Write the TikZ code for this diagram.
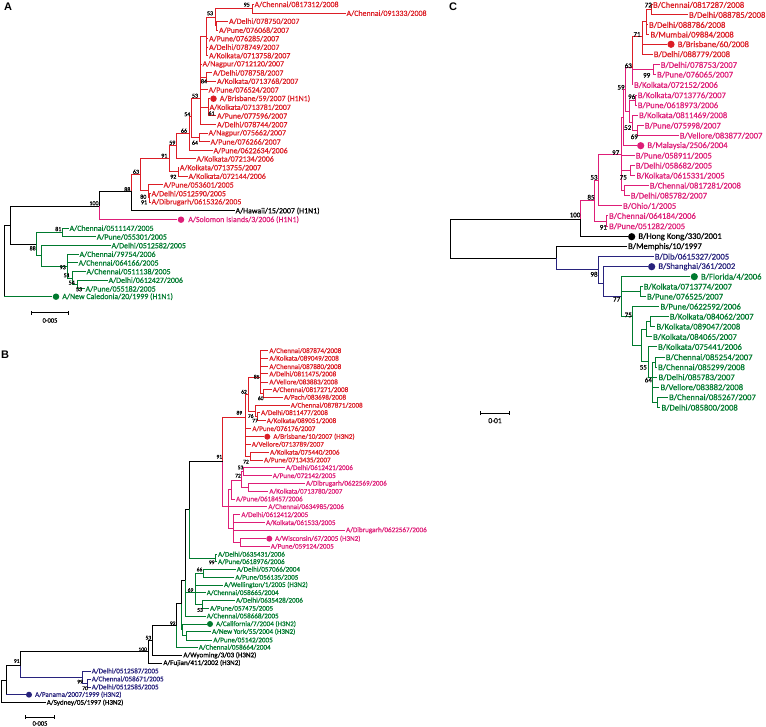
\documentclass[tikz,border=0pt]{standalone}
\usepackage{fontspec}
\setmainfont{Carlito}[FakeBold=0.6]
\newfontfamily\panelfont{Liberation Sans}
\usetikzlibrary{arrows.meta,positioning}
\definecolor{treeRed}{RGB}{220,30,38}
\definecolor{treePink}{RGB}{222,30,120}
\definecolor{treeGreen}{RGB}{0,122,46}
\definecolor{treeNavy}{RGB}{40,35,125}

\begin{document}
\begin{tikzpicture}[x=1pt,y=-1pt,line width=1pt,
  tipA/.style={anchor=west,inner sep=0.6pt,font=\fontsize{7.9}{8}\selectfont},
  tipB/.style={anchor=west,inner sep=0.6pt,font=\fontsize{7.1}{8}\selectfont},
  tipC/.style={anchor=west,inner sep=0.6pt,font=\fontsize{8.6}{10}\selectfont},
  bsA/.style={inner sep=0pt,font=\fontsize{6}{6}\selectfont},
  bsB/.style={inner sep=0pt,font=\fontsize{5.5}{6}\selectfont},
  bsC/.style={inner sep=0pt,font=\fontsize{7}{8}\selectfont},
  dotA/.style={circle,fill,inner sep=0pt,minimum size=6.5pt},
  dotB/.style={circle,fill,inner sep=0pt,minimum size=6pt},
  dotC/.style={circle,fill,inner sep=0pt,minimum size=7.2pt},
  scl/.style={inner sep=0pt,font=\fontsize{6.5}{7}\selectfont},
  panel/.style={inner sep=0pt,font=\panelfont\bfseries\fontsize{11}{12}\selectfont},
  rd/.style={color=treeRed}, pk/.style={color=treePink},
  gn/.style={color=treeGreen}, nv/.style={color=treeNavy}, bk/.style={color=black}]
\useasboundingbox (0,0) rectangle (766,727);

% ---------------- panel A ----------------
\node[panel] (pA) at (8,7) {A};
\coordinate (aRoot) at (4,261);
\coordinate (aN1) at (10,225.4);
\coordinate (aN100) at (99,206.5);
\coordinate (aN88) at (131.5,192);
\coordinate (aN63) at (140,174.5);
\coordinate (aN91) at (169.5,158.5);
\coordinate (aN92) at (178.3,172);
\coordinate (aN59) at (176.7,145.5);
\coordinate (aN66) at (189,133.5);
\coordinate (aN54) at (191.7,117);
\coordinate (aN64) at (199.3,137.7);
\coordinate (aN53b) at (200,98.5);
\coordinate (aP1) at (206.7,36.5);
\coordinate (aN53) at (215,17.3);
\coordinate (aN95) at (252.3,8.9);
\coordinate (aSm) at (216.7,25.8);
\coordinate (aN84) at (206.7,77.2);
\coordinate (aN61) at (208,107.3);
\coordinate (aN80) at (148,191);
\coordinate (aN91b) at (149.5,198);
\coordinate (aG88) at (36.5,244.3);
\coordinate (aG81) at (62.5,232.7);
\coordinate (aGX) at (41.7,256);
\coordinate (aG93) at (67.3,266.3);
\coordinate (aG51) at (72.7,278.2);
\coordinate (aG54) at (77,284.7);

\node[tipA,rd] (a1) at (253.5,4.5) {A/Chennai/0817312/2008};
\node[tipA,rd] (a2) at (345.5,13.3) {A/Chennai/091333/2008};
\node[tipA,rd] (a3) at (228,21.3) {A/Delhi/078750/2007};
\node[tipA,rd] (a4) at (218,30.3) {A/Pune/076068/2007};
\node[tipA,rd] (a5) at (208,38.7) {A/Pune/076285/2007};
\node[tipA,rd] (a6) at (208,47.3) {A/Delhi/078749/2007};
\node[tipA,rd] (a7) at (208,55.7) {A/Kolkata/0713758/2007};
\node[tipA,rd] (a8) at (201.5,64.3) {A/Nagpur/0712120/2007};
\node[tipA,rd] (a9) at (212,73) {A/Delhi/078758/2007};
\node[tipA,rd] (a10) at (216,81.3) {A/Kolkata/0713768/2007};
\node[tipA,rd] (a11) at (207.5,90) {A/Pune/076524/2007};
\node[dotA,rd] (aBri) at (213.5,98.7) {};
\node[tipA,rd,right=1.5pt of aBri] (aBriL) {A/Brisbane/59/2007 (H1N1)};
\node[tipA,rd] (a12) at (208.5,107.3) {A/Kolkata/0713781/2007};
\node[tipA,rd] (a13) at (216,116) {A/Pune/077596/2007};
\node[tipA,rd] (a14) at (216,124.7) {A/Delhi/078744/2007};
\node[tipA,rd] (a15) at (207.5,133.3) {A/Nagpur/075662/2007};
\node[tipA,rd] (a16) at (209.5,142) {A/Pune/076266/2007};
\node[tipA,rd] (a17) at (212.5,150.7) {A/Pune/0622634/2006};
\node[tipA,rd] (a18) at (195.5,159) {A/Kolkata/072134/2006};
\node[tipA,rd] (a19) at (178.8,167.7) {A/Kolkata/0713755/2007};
\node[tipA,rd] (a20) at (187.5,176.3) {A/Kolkata/072144/2006};
\node[tipA,rd] (a21) at (162.5,185) {A/Pune/053601/2005};
\node[tipA,rd] (a22) at (150.5,193.7) {A/Delhi/0512590/2005};
\node[tipA,rd] (a23) at (150.5,202.3) {A/Dibrugarh/0615326/2005};
\node[tipA,bk] (a24) at (234.5,211) {A/Hawaii/15/2007 (H1N1)};
\node[dotA,pk] (aSol) at (181,219.7) {};
\node[tipA,pk,right=2.5pt of aSol] (aSolL) {A/Solomon Islands/3/2006 (H1N1)};
\node[tipA,gn] (a25) at (68.5,228.3) {A/Chennai/0511147/2005};
\node[tipA,gn] (a26) at (95.7,237) {A/Pune/055301/2005};
\node[tipA,gn] (a27) at (110.5,245.7) {A/Delhi/0512582/2005};
\node[tipA,gn] (a28) at (78.5,254.3) {A/Chennai/79754/2006};
\node[tipA,gn] (a29) at (77.5,263) {A/Chennai/064166/2005};
\node[tipA,gn] (a30) at (85.5,271.7) {A/Chennai/0511138/2005};
\node[tipA,gn] (a31) at (107.5,280.3) {A/Delhi/0612427/2006};
\node[tipA,gn] (a32) at (84.5,289) {A/Pune/055182/2005};
\node[dotA,gn] (aNC) at (56,296.7) {};
\node[tipA,gn,right=1.5pt of aNC] (aNCL) {A/New Caledonia/20/1999 (H1N1)};

\draw[rd] (aN95) |- (a1) (aN95) |- (a2);
\draw[rd] (aSm) |- (a3) (aSm) |- (a4);
\draw[rd] (aN53) |- (aN95) (aN53) |- (aSm);
\draw[rd] (aP1) |- (aN53) (aP1) |- (a5) (aP1) |- (a6) (aP1) |- (a7);
\draw[rd] (aN84) |- (a9) (aN84) |- (a10);
\draw[rd] (aN61) |- (aBri) (aN61) |- (a12) (aN61) |- (a13);
\draw[rd] (aN53b) |- (aP1) (aN53b) |- (a8) (aN53b) |- (aN84) (aN53b) |- (a11)
  (aN53b) |- (aN61) (aN53b) |- (a14);
\draw[rd] (aN64) |- (a15) (aN64) |- (a16);
\draw[rd] (aN54) |- (aN53b) (aN54) |- (aN64);
\draw[rd] (aN66) |- (aN54) (aN66) |- (a17);
\draw[rd] (aN59) |- (aN66) (aN59) |- (a18);
\draw[rd] (aN92) |- (a19) (aN92) |- (a20);
\draw[rd] (aN91) |- (aN59) (aN91) |- (aN92);
\draw[rd] (aN91b) |- (a22) (aN91b) |- (a23);
\draw[rd] (aN80) |- (a21) (aN80) |- (aN91b);
\draw[rd] (aN63) |- (aN91) (aN63) |- (aN80);
\draw[rd] (aN88) |- (aN63);
\draw[bk] (aN88) |- (a24);
\draw[bk] (aN100) |- (aN88);
\draw[pk] (aN100) |- (aSol);
\draw[bk] (aN1) |- (aN100) (aN1) |- (aG88);
\draw[gn] (aG81) |- (a25) (aG81) |- (a26);
\draw[gn] (aG54) |- (a31) (aG54) |- (a32);
\draw[gn] (aG51) |- (a30) (aG51) |- (aG54);
\draw[gn] (aG93) |- (a28) (aG93) |- (a29) (aG93) |- (aG51);
\draw[gn] (aGX) |- (a27) (aGX) |- (aG93);
\draw[gn] (aG88) |- (aG81) (aG88) |- (aGX);
\draw[bk] (aRoot) |- (aN1) (aRoot) -- (aRoot |- aNC);
\draw[gn] (aRoot |- aNC) -- (aNC);

\node[bsA] (aL1) at (246.7,4.7) {95};
\node[bsA] (aL2) at (210,13.3) {53};
\node[bsA] (aL3) at (204,81.3) {84};
\node[bsA] (aL4) at (195,95.7) {53};
\node[bsA] (aL5) at (211.5,113.3) {61};
\node[bsA] (aL6) at (187.3,114.3) {54};
\node[bsA] (aL7) at (184,130.7) {66};
\node[bsA] (aL8) at (195,142.7) {64};
\node[bsA] (aL9) at (172.3,142.7) {59};
\node[bsA] (aL10) at (164.3,155.7) {91};
\node[bsA] (aL11) at (173.3,176.7) {92};
\node[bsA] (aL12) at (136,171.7) {63};
\node[bsA] (aL13) at (127.3,189.3) {88};
\node[bsA] (aL14) at (143.3,196.7) {80};
\node[bsA] (aL15) at (144,202.3) {91};
\node[bsA] (aL16) at (94,203.3) {100};
\node[bsA] (aL17) at (58.3,229) {81};
\node[bsA] (aL18) at (32.7,248.3) {88};
\node[bsA] (aL19) at (62.7,267.3) {93};
\node[bsA] (aL20) at (66.7,275.3) {51};
\node[bsA] (aL21) at (71.7,282.7) {54};
\node[bsA] (aL22) at (79,289.3) {53};

\coordinate (aS1) at (31,313);
\coordinate (aS2) at (69,313);
\draw[bk,{Bar[width=4pt]}-{Bar[width=4pt]}] (aS1) -- (aS2);
\node[scl] (aSL) at (50,320.5) {0·005};

% ---------------- panel B ----------------
\node[panel] (pB) at (5,355) {B};
\coordinate (bRoot) at (1.7,691.4);
\coordinate (bR2) at (6,680);
\coordinate (bA) at (20.7,665);
\coordinate (bN99) at (82.7,677);
\coordinate (bN70) at (87.5,683);
\coordinate (bN100) at (148.3,651.5);
\coordinate (bN53) at (152.7,640.5);
\coordinate (bN92) at (176.7,625.5);
\coordinate (bZ) at (181,603.7);
\coordinate (bNC) at (182.7,629.9);
\coordinate (bNY) at (186.7,635.9);
\coordinate (bY) at (185,580);
\coordinate (bX) at (189,509.4);
\coordinate (bG69) at (195,592);
\coordinate (bG66) at (203.3,573.3);
\coordinate (bG53) at (202.3,604.3);
\coordinate (bG99) at (215,558);
\coordinate (bM91) at (222.7,461.7);
\coordinate (bM) at (228.3,506);
\coordinate (bM2) at (231.7,489.5);
\coordinate (bM72) at (241.5,480);
\coordinate (bM53) at (243.3,471.7);
\coordinate (bDK) at (248.3,487.5);
\coordinate (bDel) at (233.3,528.6);
\coordinate (bWP) at (240,542.5);
\coordinate (bR89) at (245,417.3);
\coordinate (bR62) at (248.3,394.5);
\coordinate (bR85) at (260,378);
\coordinate (bR60) at (263.3,393.5);
\coordinate (bR76) at (255,411);
\coordinate (bR77) at (257.5,416.7);
\coordinate (bR72) at (250,456.2);

\node[tipB,rd] (b1) at (268.3,350.7) {A/Chennai/087874/2008};
\node[tipB,rd] (b2) at (268.3,358.3) {A/Kolkata/089049/2008};
\node[tipB,rd] (b3) at (268.3,366.7) {A/Chennai/087880/2008};
\node[tipB,rd] (b4) at (268.3,374) {A/Delhi/0811475/2008};
\node[tipB,rd] (b5) at (268.3,382) {A/Vellore/083883/2008};
\node[tipB,rd] (b6) at (271.7,389.7) {A/Chennai/0817271/2008};
\node[tipB,rd] (b7) at (283,397.3) {A/Pach/083698/2008};
\node[tipB,rd] (b8) at (289.7,405.3) {A/Chennai/087871/2008};
\node[tipB,rd] (b9) at (260,412.7) {A/Delhi/0811477/2008};
\node[tipB,rd] (b10) at (265.7,420.7) {A/Kolkata/089051/2008};
\node[tipB,rd] (b11) at (251.3,428.7) {A/Pune/076176/2007};
\node[dotB,rd] (bBri) at (267.3,436.7) {};
\node[tipB,rd,right=1.5pt of bBri] (bBriL) {A/Brisbane/10/2007 (H3N2)};
\node[tipB,rd] (b12) at (250.7,444.3) {A/Vellore/0713789/2007};
\node[tipB,rd] (b13) at (269,452.3) {A/Kolkata/075440/2006};
\node[tipB,rd] (b14) at (263,460) {A/Pune/0713435/2007};
\node[tipB,pk] (b15) at (285,467.7) {A/Delhi/0612421/2006};
\node[tipB,pk] (b16) at (271.7,475.7) {A/Pune/072142/2005};
\node[tipB,pk] (b17) at (305,483.7) {A/Dibrugarh/0622569/2006};
\node[tipB,pk] (b18) at (268.3,491.3) {A/Kolkata/0713780/2007};
\node[tipB,pk] (b19) at (235,499) {A/Pune/0618457/2006};
\node[tipB,pk] (b20) at (267.3,506.7) {A/Chennai/0634985/2006};
\node[tipB,pk] (b21) at (240.3,514.7) {A/Delhi/0612412/2005};
\node[tipB,pk] (b22) at (265,522.7) {A/Kolkata/061533/2005};
\node[tipB,pk] (b23) at (345,530.3) {A/Dibrugarh/0622567/2006};
\node[dotB,pk] (bWis) at (269.3,538.7) {};
\node[tipB,pk,right=1.2pt of bWis] (bWisL) {A/Wisconsin/67/2005 (H3N2)};
\node[tipB,pk] (b24) at (269.7,546.3) {A/Pune/059124/2005};
\node[tipB,gn] (b25) at (217,554.3) {A/Delhi/0635431/2006};
\node[tipB,gn] (b26) at (217,561.7) {A/Pune/0618976/2006};
\node[tipB,gn] (b27) at (235.7,569.3) {A/Delhi/057066/2004};
\node[tipB,gn] (b28) at (234.3,577.3) {A/Pune/056135/2005};
\node[tipB,gn] (b29) at (223,585) {A/Wellington/1/2005 (H3N2)};
\node[tipB,gn] (b30) at (205.7,592.7) {A/Chennai/058665/2004};
\node[tipB,gn] (b31) at (235,600.3) {A/Delhi/0635428/2006};
\node[tipB,gn] (b32) at (209,608.3) {A/Pune/057475/2005};
\node[tipB,gn] (b33) at (205.7,616) {A/Chennai/058668/2005};
\node[dotB,gn] (bCal) at (210,624) {};
\node[tipB,gn,right=1.5pt of bCal] (bCalL) {A/California/7/2004 (H3N2)};
\node[tipB,gn] (b34) at (211,631.7) {A/New York/55/2004 (H3N2)};
\node[tipB,gn] (b35) at (212.3,640) {A/Pune/05142/2005};
\node[tipB,gn] (b36) at (197.7,647.3) {A/Chennai/058664/2004};
\node[tipB,bk] (b37) at (182.3,655.3) {A/Wyoming/3/03 (H3N2)};
\node[tipB,bk] (b38) at (162.3,663) {A/Fujian/411/2002 (H3N2)};
\node[tipB,nv] (b39) at (90.7,671) {A/Delhi/0512587/2005};
\node[tipB,nv] (b40) at (90.7,679) {A/Chennai/058671/2005};
\node[tipB,nv] (b41) at (90.7,687) {A/Delhi/0512585/2005};
\node[dotB,nv] (bPan) at (29,694.7) {};
\node[tipB,nv,right=1.5pt of bPan] (bPanL) {A/Panama/2007/1999 (H3N2)};
\node[tipB,bk] (b42) at (45.7,702.7) {A/Sydney/05/1997 (H3N2)};

\draw[rd] (bR85) |- (b1) (bR85) |- (b2) (bR85) |- (b3) (bR85) |- (b4) (bR85) |- (b5)
  (bR85) |- (bR60);
\draw[rd] (bR60) |- (b6) (bR60) |- (b7);
\draw[rd] (bR77) |- (b9) (bR77) |- (b10);
\draw[rd] (bR76) |- (b8) (bR76) |- (bR77);
\draw[rd] (bR62) |- (bR85) (bR62) |- (bR76);
\draw[rd] (bR72) |- (b13) (bR72) |- (b14);
\draw[rd] (bR89) |- (bR62) (bR89) |- (b11) (bR89) |- (bBri) (bR89) |- (b12) (bR89) |- (bR72);
\draw[rd] (bM91) |- (bR89);
\draw[pk] (bM53) |- (b15) (bM53) |- (b16);
\draw[pk] (bDK) |- (b17) (bDK) |- (b18);
\draw[pk] (bM72) |- (bM53) (bM72) |- (bDK);
\draw[pk] (bM2) |- (bM72) (bM2) |- (b19);
\draw[pk] (bWP) |- (bWis) (bWP) |- (b24);
\draw[pk] (bDel) |- (b21) (bDel) |- (b22) (bDel) |- (b23) (bDel) |- (bWP);
\draw[pk] (bM) |- (bM2) (bM) |- (b20) (bM) |- (bDel);
\draw[pk] (bM91) |- (bM);
\draw[bk] (bX) |- (bM91);
\draw[gn] (bX) |- (bG99);
\draw[gn] (bG99) |- (b25) (bG99) |- (b26);
\draw[gn] (bG66) |- (b27) (bG66) |- (b28);
\draw[gn] (bG53) |- (b31) (bG53) |- (b32);
\draw[gn] (bG69) |- (bG66) (bG69) |- (b29) (bG69) |- (b30) (bG69) |- (bG53);
\draw[bk] (bY) |- (bX);
\draw[gn] (bY) |- (bG69) (bY) |- (b33);
\draw[gn] (bNY) |- (b34) (bNY) |- (b35);
\draw[gn] (bNC) |- (bCal) (bNC) |- (bNY);
\draw[bk] (bZ) |- (bY);
\draw[gn] (bZ) |- (bNC);
\draw[bk] (bN92) |- (bZ);
\draw[gn] (bN92) |- (b36);
\draw[bk] (bN53) |- (bN92) (bN53) |- (b37);
\draw[bk] (bN100) |- (bN53) (bN100) |- (b38);
\draw[bk] (bA) |- (bN100);
\draw[nv] (bN70) |- (b40) (bN70) |- (b41);
\draw[nv] (bN99) |- (b39) (bN99) |- (bN70);
\draw[nv] (bA) |- (bN99);
\draw[bk] (bR2) |- (bA) (bR2) -- (bR2 |- bPan);
\draw[nv] (bR2 |- bPan) -- (bPan);
\draw[bk] (bRoot) |- (bR2) (bRoot) |- (b42);

\node[bsB] (bL1) at (256.7,376.7) {85};
\node[bsB] (bL2) at (244,391.7) {62};
\node[bsB] (bL3) at (260.7,398.3) {60};
\node[bsB] (bL4) at (239.3,412.7) {89};
\node[bsB] (bL5) at (250.7,416) {76};
\node[bsB] (bL6) at (255,420.7) {77};
\node[bsB] (bL7) at (219.3,456.7) {91};
\node[bsB] (bL8) at (246,461.7) {72};
\node[bsB] (bL9) at (240.5,467.5) {53};
\node[bsB] (bL10) at (238,475.7) {72};
\node[bsB] (bL11) at (211.7,562.3) {99};
\node[bsB] (bL12) at (199.5,569.5) {66};
\node[bsB] (bL13) at (190.5,590) {69};
\node[bsB] (bL14) at (200,610) {53};
\node[bsB] (bL15) at (172.7,623.3) {92};
\node[bsB] (bL16) at (148.3,637.7) {53};
\node[bsB] (bL17) at (142.7,649.3) {100};
\node[bsB] (bL18) at (16.7,661) {91};
\node[bsB] (bL19) at (80,681.7) {99};
\node[bsB] (bL20) at (85,688.3) {70};

\coordinate (bS1) at (25,717);
\coordinate (bS2) at (55,717);
\draw[bk,{Bar[width=4pt]}-{Bar[width=4pt]}] (bS1) -- (bS2);
\node[scl] (bSL) at (40,723.5) {0·005};

% ---------------- panel C ----------------
\node[panel] (pC) at (453,7) {C};
\coordinate (cRoot) at (450,239.3);
\coordinate (cN100) at (580,219.2);
\coordinate (cN85) at (594,200.8);
\coordinate (cN91) at (606.7,221.2);
\coordinate (cN53) at (598.7,180.5);
\coordinate (cN97) at (621.7,155);
\coordinate (cU) at (623.3,117.9);
\coordinate (cN59) at (625,90);
\coordinate (cN63) at (632.3,68);
\coordinate (cN71) at (642.3,37);
\coordinate (cA) at (646.7,22);
\coordinate (cN72) at (651.7,10);
\coordinate (cN99) at (653.3,69.9);
\coordinate (cW) at (629,111.7);
\coordinate (cN96) at (635,100.3);
\coordinate (cN52) at (632.3,123);
\coordinate (cN69) at (637.7,130.7);
\coordinate (cN75) at (630,170.7);
\coordinate (cSub) at (624,190.7);
\coordinate (cB) at (556.7,258.3);
\coordinate (cN98) at (598.3,269.9);
\coordinate (cS) at (603.3,283.1);
\coordinate (cN77) at (621,297);
\coordinate (cKP) at (640,291.7);
\coordinate (cN75b) at (632.3,317);
\coordinate (cD) at (641.7,345.5);
\coordinate (cK2) at (646.7,329.4);
\coordinate (cK1) at (650,321.7);
\coordinate (cE) at (648.3,361.5);
\coordinate (cN64) at (652,378);
\coordinate (cF) at (655,362.3);
\coordinate (cG2) at (657,402.5);

\node[tipC,rd] (c1) at (652,5) {B/Chennai/0817287/2008};
\node[tipC,rd] (c2) at (688,15) {B/Delhi/088785/2008};
\node[tipC,rd] (c3) at (648,25) {B/Delhi/088786/2008};
\node[tipC,rd] (c4) at (649.4,34.7) {B/Mumbai/09884/2008};
\node[dotC,rd] (cBri) at (671,44.3) {};
\node[tipC,rd,right=1.5pt of cBri] (cBriL) {B/Brisbane/60/2008};
\node[tipC,rd] (c5) at (652.7,54.3) {B/Delhi/088779/2008};
\node[tipC,pk] (c6) at (659.7,65) {B/Delhi/078753/2007};
\node[tipC,pk] (c7) at (656,74.7) {B/Pune/076065/2007};
\node[tipC,pk] (c8) at (633,85) {B/Kolkata/072152/2006};
\node[tipC,pk] (c9) at (636.7,95.3) {B/Kolkata/0713776/2007};
\node[tipC,pk] (c10) at (636.7,105.3) {B/Pune/0618973/2006};
\node[tipC,pk] (c11) at (638,115.3) {B/Kolkata/0811469/2008};
\node[tipC,pk] (c12) at (643.7,125.7) {B/Pune/075998/2007};
\node[tipC,pk] (c13) at (678.7,135.7) {B/Vellore/083877/2007};
\node[dotC,pk] (cMal) at (640.7,145.7) {};
\node[tipC,pk,right=1.5pt of cMal] (cMalL) {B/Malaysia/2506/2004};
\node[tipC,pk] (c14) at (634.7,155.7) {B/Pune/058911/2005};
\node[tipC,pk] (c15) at (634.7,165.7) {B/Delhi/058682/2005};
\node[tipC,pk] (c16) at (635.4,175.7) {B/Kolkata/0615331/2005};
\node[tipC,pk] (c17) at (648.7,185.7) {B/Chennai/0817281/2008};
\node[tipC,pk] (c18) at (629.7,195.7) {B/Delhi/085782/2007};
\node[tipC,pk] (c19) at (622,206) {B/Ohio/1/2005};
\node[tipC,pk] (c20) at (608,216) {B/Chennai/064184/2006};
\node[tipC,pk] (c21) at (608,226.3) {B/Pune/051282/2005};
\node[dotC,bk] (cHK) at (631.7,236.7) {};
\node[tipC,bk,right=1.5pt of cHK] (cHKL) {B/Hong Kong/330/2001};
\node[tipC,bk] (c22) at (627,246.7) {B/Memphis/10/1997};
\node[tipC,nv] (c23) at (653.7,256.7) {B/Dib/0615327/2005};
\node[dotC,nv] (cSh) at (651.7,266.7) {};
\node[tipC,nv,right=1.5pt of cSh] (cShL) {B/Shanghai/361/2002};
\node[dotC,gn] (cFl) at (694.3,276.7) {};
\node[tipC,gn,right=1.5pt of cFl] (cFlL) {B/Florida/4/2006};
\node[tipC,gn] (c24) at (642.7,286.7) {B/Kolkata/0713774/2007};
\node[tipC,gn] (c25) at (646,296.7) {B/Pune/076525/2007};
\node[tipC,gn] (c26) at (659.4,306.7) {B/Pune/0622592/2006};
\node[tipC,gn] (c27) at (668.7,316.7) {B/Kolkata/084062/2007};
\node[tipC,gn] (c28) at (655.4,326.7) {B/Kolkata/089047/2008};
\node[tipC,gn] (c29) at (652,337) {B/Kolkata/084065/2007};
\node[tipC,gn] (c30) at (657,347) {B/Kolkata/075441/2006};
\node[tipC,gn] (c31) at (664.7,357.3) {B/Chennai/085254/2007};
\node[tipC,gn] (c32) at (657,367.3) {B/Chennai/085299/2008};
\node[tipC,gn] (c33) at (657.4,377.3) {B/Delhi/085783/2007};
\node[tipC,gn] (c34) at (659.4,387.3) {B/Vellore/083882/2008};
\node[tipC,gn] (c35) at (668,397.3) {B/Chennai/085267/2007};
\node[tipC,gn] (c36) at (660.4,407.7) {B/Delhi/085800/2008};

\draw[rd] (cN72) |- (c1) (cN72) |- (c2);
\draw[rd] (cA) |- (cN72) (cA) |- (c3) (cA) |- (c4);
\draw[rd] (cN71) |- (cA) (cN71) |- (cBri) (cN71) |- (c5);
\draw[rd] (cN63) |- (cN71);
\draw[pk] (cN99) |- (c6) (cN99) |- (c7);
\draw[pk] (cN63) |- (cN99) (cN63) |- (c8);
\draw[pk] (cN96) |- (c9) (cN96) |- (c10);
\draw[pk] (cN69) |- (c12) (cN69) |- (c13);
\draw[pk] (cN52) |- (c11) (cN52) |- (cN69);
\draw[pk] (cW) |- (cN96) (cW) |- (cN52);
\draw[pk] (cN59) |- (cN63) (cN59) |- (cW);
\draw[pk] (cU) |- (cN59) (cU) |- (cMal);
\draw[pk] (cN75) |- (c15) (cN75) |- (c16);
\draw[pk] (cSub) |- (c17) (cSub) |- (c18);
\draw[pk] (cN97) |- (cU) (cN97) |- (c14) (cN97) |- (cN75) (cN97) |- (cSub);
\draw[pk] (cN53) |- (cN97) (cN53) |- (c19);
\draw[pk] (cN91) |- (c20) (cN91) |- (c21);
\draw[pk] (cN85) |- (cN53) (cN85) |- (cN91);
\draw[pk] (cN100) |- (cN85);
\draw[bk] (cN100) |- (cHK);
\draw[bk] (cRoot) |- (cN100) (cRoot) |- (cB);
\draw[bk] (cB) |- (c22);
\draw[nv] (cB) |- (cN98);
\draw[nv] (cN98) |- (c23) (cN98) |- (cS);
\draw[nv] (cS) |- (cSh) (cS) |- (cN77);
\draw[gn] (cN77) |- (cFl) (cN77) |- (cKP) (cN77) |- (cN75b);
\draw[gn] (cKP) |- (c24) (cKP) |- (c25);
\draw[gn] (cN75b) |- (c26) (cN75b) |- (cD);
\draw[gn] (cK1) |- (c27) (cK1) |- (c28);
\draw[gn] (cK2) |- (cK1) (cK2) |- (c29);
\draw[gn] (cD) |- (cK2) (cD) |- (cE);
\draw[gn] (cE) |- (c30) (cE) |- (cN64);
\draw[gn] (cF) |- (c31) (cF) |- (c32);
\draw[gn] (cN64) |- (cF) (cN64) |- (c33) (cN64) |- (c34) (cN64) |- (cG2);
\draw[gn] (cG2) |- (c35) (cG2) |- (c36);

\node[bsC] (cL1) at (648.3,5) {72};
\node[bsC] (cL2) at (637,34.3) {71};
\node[bsC] (cL3) at (628.3,65.7) {63};
\node[bsC] (cL4) at (646.7,75.3) {99};
\node[bsC] (cL5) at (621,87.3) {59};
\node[bsC] (cL6) at (631.7,96.7) {96};
\node[bsC] (cL7) at (627.7,127.7) {52};
\node[bsC] (cL8) at (634.3,136.7) {69};
\node[bsC] (cL9) at (615.7,152.7) {97};
\node[bsC] (cL10) at (623.3,177.3) {75};
\node[bsC] (cL11) at (594,177.3) {53};
\node[bsC] (cL12) at (591,197.3) {85};
\node[bsC] (cL13) at (575,215) {100};
\node[bsC] (cL14) at (603.3,227.3) {91};
\node[bsC] (cL15) at (594,274.3) {98};
\node[bsC] (cL16) at (616.7,299.3) {77};
\node[bsC] (cL17) at (628.3,315) {75};
\node[bsC] (cL18) at (643.3,367.3) {55};
\node[bsC] (cL19) at (648.3,380) {64};

\coordinate (cS1) at (480,413.3);
\coordinate (cS2) at (510,413.3);
\draw[bk,{Bar[width=4pt]}-{Bar[width=4pt]}] (cS1) -- (cS2);
\node[scl,font=\fontsize{7.5}{8}\selectfont] (cSL) at (495,420.7) {0·01};
\end{tikzpicture}
\end{document}
